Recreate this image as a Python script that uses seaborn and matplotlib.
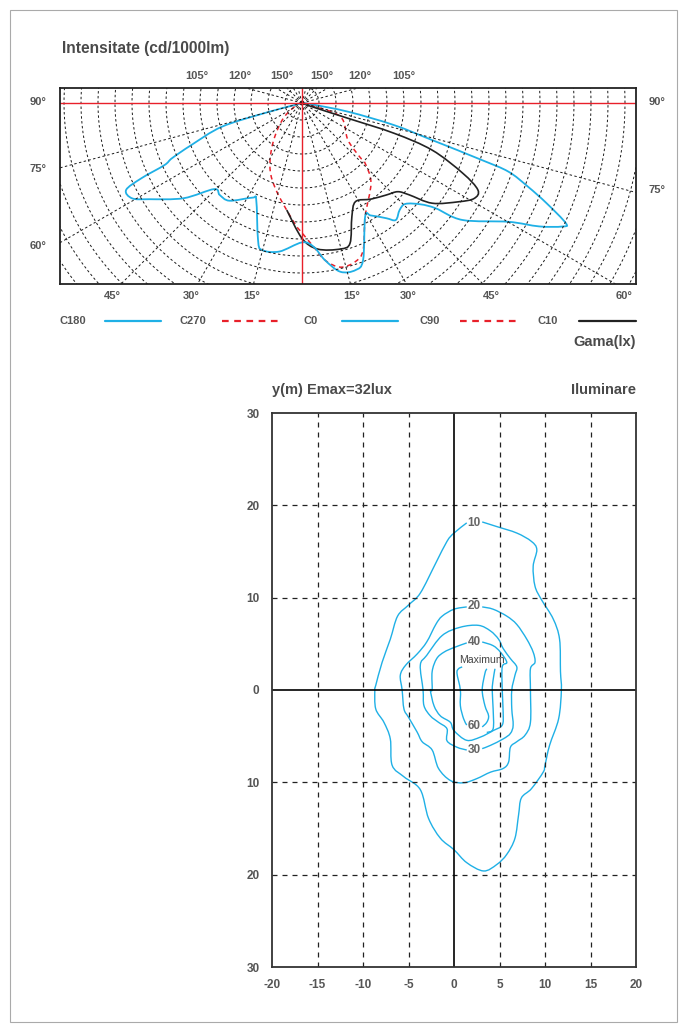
import numpy as np
import matplotlib
matplotlib.use('Agg')
import matplotlib.pyplot as plt
import seaborn as sns
from matplotlib.lines import Line2D
from matplotlib.patches import Rectangle, PathPatch
from matplotlib.path import Path

sns.set_style('white')
plt.rcParams['font.family'] = ['Liberation Sans', 'DejaVu Sans']

CYAN = '#1fb0e6'
RED = '#e8202a'
GREY = '#555555'

# ---- polar intensity curves (gamma in degrees, negative = C180/C270 side; cd/1000lm)
c0_c180_gamma = [-76, -75, -74.9, -73.5, -69.2, -67.0, -65.7, -64.9, -63.7, -60.7, -57.8, -51.2,
                 -45.6, -41.8, -36.6, -27.6, -25.3, -17.8, -15.3, -8.7, 0, 4.6, 8.3, 12.8, 17.8,
                 21.3, 29.1, 31.5, 36.2, 38.7, 42.4, 45.7, 49.5, 51.8, 53.9, 60.1, 62.5, 64.6,
                 65.5, 67.7, 69.7, 71.6, 72.4, 74.1, 76.5, 79.3, 82.7, 84]
c0_c180_cd = [0, 23, 116, 246, 348, 415, 444, 521, 577, 573, 531, 447,
              362, 363, 358, 314, 315, 423, 448, 442, 410, 424, 467, 509, 516,
              495, 382, 388, 420, 441, 426, 425, 459, 501, 584, 701, 786, 847,
              853, 778, 708, 640, 555, 398, 278, 138, 23, 0]

c10_gamma = [-8.1, 0, 6.1, 14.7, 18.9, 23.7, 28.5, 35.7, 42.5, 47.2, 49.4, 52.4, 57.8,
             61.0, 63.7, 66.4, 70.1, 71.8, 71.6, 69, 69]
c10_cd = [318, 398, 432, 444, 436, 365, 330, 348, 367, 384, 415, 483, 545,
          579, 577, 516, 407, 285, 143, 25, 0]

c90_c270_gamma = [-70, -69.3, -50.7, -36.6, -26.1, -15.9, -3.6, 0, 4.6, 8.3, 13.2, 18.7,
                  22.6, 29.1, 40.7, 46.3, 47, 51.2, 70.4, 75.6, 76]
c90_c270_cd = [0, 17, 71, 142, 214, 271, 354, 382, 424, 467, 496, 492,
               468, 382, 311, 257, 231, 173, 120, 24, 0]

ring_step = 50
top_labels = ['105°', '120°', '150°', '150°', '120°', '105°']
bottom_labels = ['45°', '30°', '15°', '15°', '30°', '45°', '60°']

# ---- isolux lines (m)
iso10_x = [3.1, 4.7, 6.9, 8.5, 9.1, 8.7, 8.9, 9.6, 10.9, 11.6, 11.7, 11.8, 11.5, 10.5, 10.0, 9.8,
           8.5, 7.4, 7.1, 6.7, 5.8, 4.7, 3.25, 1.4, 0.0, -1.5, -2.8, -3.7, -5.5, -6.8, -7.0,
           -7.7, -8.6, -8.7, -8.6, -7.9, -7.0, -6.2, -5.0, -3.7, -2.0, -0.77, 0.0, 1.4]
iso10_y = [18.2, 17.7, 17.0, 16.1, 15.2, 13.4, 11.25, 9.8, 7.7, 5.5, 2.0, 0.0, -3.1, -6.0, -8.15,
           -8.9, -10.7, -11.7, -13.5, -16.05, -17.8, -18.9, -19.6, -18.7, -17.3, -16.05, -13.9,
           -10.8, -9.4, -8.15, -5.3, -3.5, -2.05, 0.0, 0.5, 3.0, 5.5, 8.0, 9.2, 10.5, 13.75,
           16.1, 17.0, 18.1]
iso20_x = [3.1, 4.3, 5.8, 6.9, 8.0, 8.7, 8.9, 8.4, 8.4, 8.4, 7.8, 6.9, 6.2, 6.0, 5.4, 4.0, 2.5,
           1.05, -0.4, -1.7, -2.4, -3.5, -4.05, -5.0, -5.5, -5.7, -5.9, -5.3, -4.05, -3.0, -2.0,
           -1.3, 0.0, 1.4]
iso20_y = [9.0, 8.75, 8.0, 7.1, 5.5, 4.1, 3.0, 2.3, 0.0, -3.5, -4.9, -5.6, -6.2, -7.8, -8.5,
           -8.9, -9.6, -10.05, -9.8, -8.5, -6.5, -5.6, -4.56, -2.95, -2.05, 0.0, 1.6, 2.7, 3.9,
           5.2, 7.1, 8.0, 8.75, 9.0]
iso30_x = [3.1, 4.0, 5.4, 6.2, 6.5, 6.35, 6.35, 6.7, 6.9, 6.2, 5.4, 4.9, 4.0, 2.7, 0.7, -1.3,
           -3.0, -3.7, -3.4, -3.3, -2.6, -1.7, -0.77, -0.77, 0.33, 1.4]
iso30_y = [-6.35, -6.0, -5.3, -4.7, -3.8, -2.05, 0.0, 1.6, 2.5, 3.4, 4.5, 5.5, 6.4, 7.0, 6.8,
           5.9, 3.75, 2.7, 0.0, -1.7, -2.8, -3.5, -4.2, -5.5, -6.2, -6.5]
iso40_x = [3.1, 4.3, 5.1, 5.8, 5.3, 5.3, 5.4, 5.3, 4.3, 2.9, 1.4, 0.0, -0.4, -1.5, -2.2, -2.6,
           -2.4, -2.4, -1.9, -1.1, 0.0, 1.4]
iso40_y = [5.2, 4.8, 4.1, 3.0, 2.5, 0.0, -2.4, -3.8, -4.4, -5.1, -5.45, -4.4, -3.5, -2.8, -1.7,
           0.0, 0.0, 2.0, 3.4, 4.1, 4.6, 5.1]
iso50_x = [4.5, 4.3, 4.2, 4.3, 4.3, 3.6]
iso50_y = [2.3, 1.1, 0.0, -2.05, -4.2, -4.6]
iso60_x = [3.6, 3.4, 3.1, 3.4, 3.8, 3.6, 3.1]
iso60_y = [2.3, 1.8, 0.0, -1.7, -2.8, -3.5, -4.0]
iso60b_x = [1.4, 1.05, 0.7, 0.7, 0.33, 0.5, 0.9]
iso60b_y = [-3.8, -3.1, -1.7, 0.0, 1.8, 2.3, 2.5]

iso_labels = ['10', '20', '40', '60', '30']
iso_label_x = [2.2, 2.2, 2.2, 2.2, 2.2]
iso_label_y = [18.1, 9.1, 5.2, -3.9, -6.5]

fig = plt.figure(figsize=(6.87, 10.32), dpi=100)
W, H = 687.0, 1032.0


def fx(x):
    return x / W


def fy(y):
    return 1 - y / H


def smooth_line(ax, xs, ys, **kw):
    # Catmull-Rom style bezier through the read points
    p = np.column_stack([xs, ys]).astype(float)
    n = len(p)
    verts = [p[0]]
    codes = [Path.MOVETO]
    for i in range(n - 1):
        p0 = p[i - 1] if i > 0 else p[i]
        p3 = p[i + 2] if i + 2 < n else p[i + 1]
        verts += [p[i] + (p[i + 1] - p0) / 6.0, p[i + 1] - (p3 - p[i]) / 6.0, p[i + 1]]
        codes += [Path.CURVE4] * 3
    ax.add_patch(PathPatch(Path(verts, codes), fill=False, **kw))


fig.add_artist(Rectangle((fx(10), fy(1022)), fx(667), 1012 / H, fill=False,
                         edgecolor='#aaaaaa', lw=0.8, transform=fig.transFigure))

# ================= top: polar intensity diagram ======================
ax1 = fig.add_axes([fx(60), fy(284), fx(576), 196 / H])
px_per_ring = 17.0
u = ring_step / px_per_ring
ax1.set_xlim(-242 * u, 334 * u)
ax1.set_ylim(-181 * u, 15 * u)

t = np.linspace(0, 2 * np.pi, 400)
grid_kw = dict(color='#1a1a1a', lw=0.7, linestyle=(0, (2.5, 2.5)))
for k in range(1, 25):
    r = k * ring_step
    sns.lineplot(x=r * np.cos(t), y=r * np.sin(t), sort=False, estimator=None, ax=ax1, **grid_kw)
for a in range(-165, 181, 15):
    if a in (0, 90, -90, 180):
        continue
    g = np.radians(a)
    ax1.plot([0, 3000 * np.sin(g)], [0, -3000 * np.cos(g)], **grid_kw)
ax1.axhline(0, color=RED, lw=1.0)
ax1.axvline(0, color=RED, lw=1.0)


def polar_xy(gamma, cd):
    g = np.radians(np.asarray(gamma, dtype=float))
    r = np.asarray(cd, dtype=float)
    return r * np.sin(g), -r * np.cos(g)


x, y = polar_xy(c90_c270_gamma, c90_c270_cd)
smooth_line(ax1, x, y, edgecolor=RED, lw=1.1, linestyle=(0, (3, 2.5)))
x, y = polar_xy(c10_gamma, c10_cd)
smooth_line(ax1, x, y, edgecolor='#222222', lw=1.2)
x, y = polar_xy(c0_c180_gamma, c0_c180_cd)
smooth_line(ax1, x, y, edgecolor=CYAN, lw=1.3)

ax1.set_xticks([])
ax1.set_yticks([])
ax1.set_xlabel('')
ax1.set_ylabel('')
for s in ax1.spines.values():
    s.set_color('#222222')
    s.set_linewidth(1.3)

lab = dict(fontsize=8, fontweight='bold', color=GREY, va='center', ha='center')
fig.text(fx(62), fy(48), 'Intensitate (cd/1000lm)', fontsize=11.2, fontweight='bold',
         color='#4a4a4a', va='center', ha='left')
for txt, xp in zip(top_labels, [197, 240, 282, 322, 360, 404]):
    fig.text(fx(xp), fy(76), txt, **lab)
for txt, xp in zip(bottom_labels, [112, 191, 252, 352, 408, 491, 624]):
    fig.text(fx(xp), fy(296), txt, **lab)
for txt, yp in zip(['90°', '75°', '60°'], [102, 169, 246]):
    fig.text(fx(38), fy(yp), txt, **lab)
for txt, yp in zip(['90°', '75°'], [102, 190]):
    fig.text(fx(657), fy(yp), txt, **lab)

# legend row
leg_items = [('C180', 60, (105, 161), CYAN, '-'),
             ('C270', 180, (222, 280), RED, (0, (3, 2.5))),
             ('C0', 304, (342, 398), CYAN, '-'),
             ('C90', 420, (460, 517), RED, (0, (3, 2.5))),
             ('C10', 538, (579, 636), '#222222', '-')]
for name, tx, (l0, l1), col, ls in leg_items:
    fig.text(fx(tx), fy(321), name, fontsize=8, fontweight='bold', color=GREY,
             va='center', ha='left')
    fig.add_artist(Line2D([fx(l0), fx(l1)], [fy(321), fy(321)], color=col, lw=1.6,
                          linestyle=ls, transform=fig.transFigure))
fig.text(fx(636), fy(342), 'Gama(lx)', fontsize=10.5, fontweight='bold', color='#4a4a4a',
         va='center', ha='right')

# ================= bottom: isolux diagram ======================
ax2 = fig.add_axes([fx(272), fy(967), fx(364), 554 / H])
ax2.set_xlim(-20, 20)
ax2.set_ylim(-30, 30)
for v in [-15, -10, -5, 5, 10, 15]:
    ax2.axvline(v, color='#222222', lw=0.9, linestyle=(0, (4, 4)))
for v in [-20, -10, 10, 20]:
    ax2.axhline(v, color='#222222', lw=0.9, linestyle=(0, (4, 4)))
ax2.axvline(0, color='black', lw=1.2)
ax2.axhline(0, color='black', lw=1.2)

for xs, ys in [(iso10_x, iso10_y), (iso20_x, iso20_y), (iso30_x, iso30_y),
               (iso40_x, iso40_y), (iso50_x, iso50_y), (iso60_x, iso60_y),
               (iso60b_x, iso60b_y)]:
    smooth_line(ax2, xs, ys, edgecolor=CYAN, lw=1.0)
for txt, lx, ly in zip(iso_labels, iso_label_x, iso_label_y):
    ax2.text(lx, ly, txt, fontsize=8.5, fontweight='bold', color='#666666',
             ha='center', va='center')
ax2.text(3.1, 3.3, 'Maximum', fontsize=7.6, color='#444444', ha='center', va='center')

ax2.set_xticks(range(-20, 25, 5))
ax2.set_xticklabels([str(v) for v in range(-20, 25, 5)])
ax2.set_yticks(range(-30, 40, 10))
ax2.set_yticklabels([str(abs(v)) for v in range(-30, 40, 10)])
ax2.tick_params(length=0, labelsize=8.5, labelcolor=GREY, pad=9)
for lbl in ax2.get_xticklabels() + ax2.get_yticklabels():
    lbl.set_fontweight('bold')
ax2.set_xlabel('')
ax2.set_ylabel('')
for s in ax2.spines.values():
    s.set_color('#333333')
    s.set_linewidth(1.3)

fig.text(fx(272), fy(390), 'y(m) Emax=32lux', fontsize=10.5, fontweight='bold',
         color='#4a4a4a', va='center', ha='left')
fig.text(fx(636), fy(390), 'Iluminare', fontsize=10.5, fontweight='bold', color='#4a4a4a',
         va='center', ha='right')

fig.savefig('out.png', dpi=100)
